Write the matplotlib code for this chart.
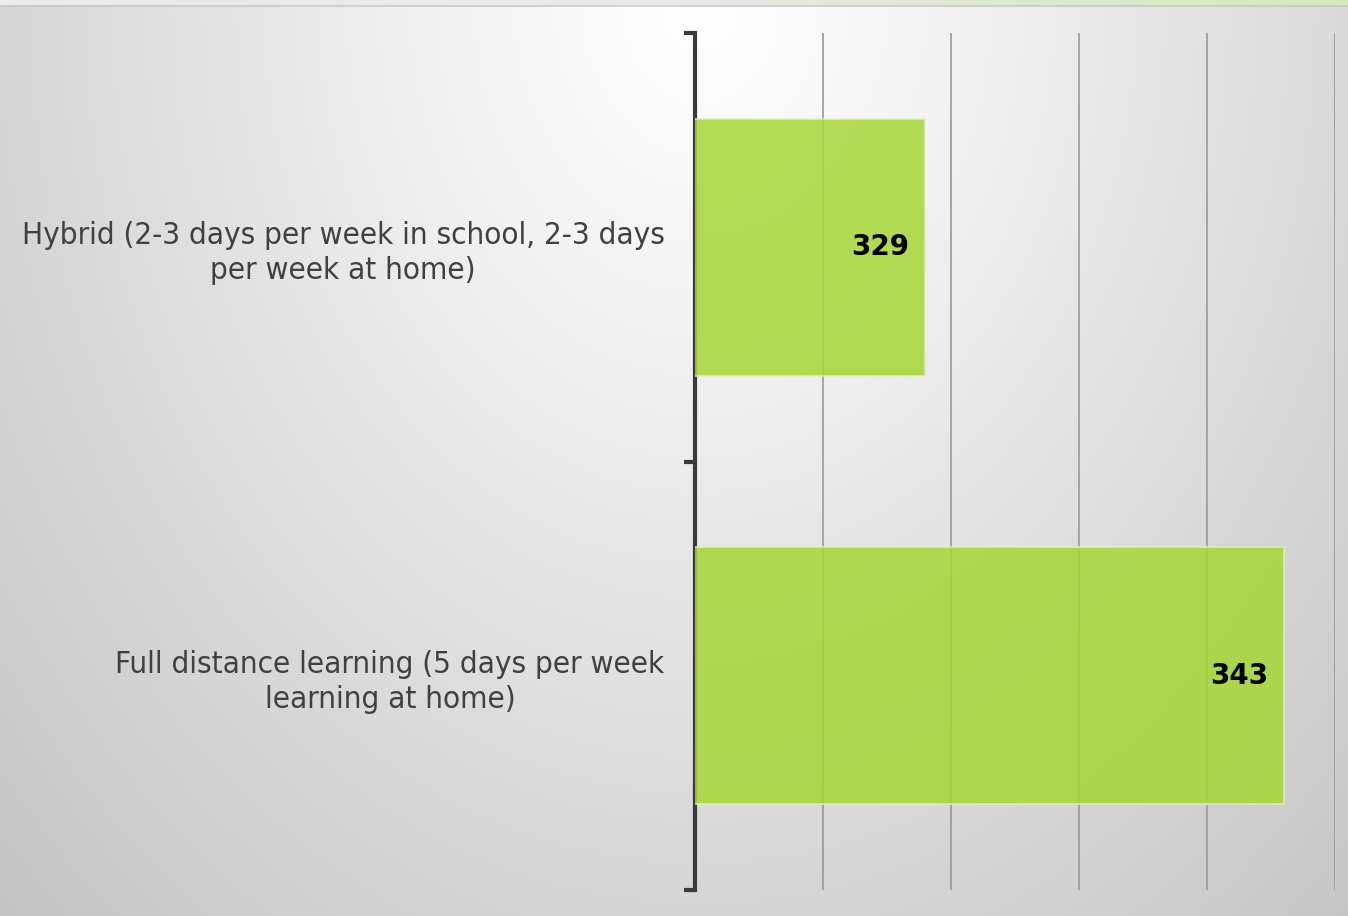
import numpy as np
import matplotlib.pyplot as plt
from matplotlib.colors import LinearSegmentedColormap

# data
categories = ['Hybrid (2-3 days per week in school, 2-3 days\nper week at home)',
              'Full distance learning (5 days per week\nlearning at home)']
values = [329, 343]

fig = plt.figure(figsize=(13.48, 9.16), dpi=100)

# background gradient (light at top centre, grey towards the edges)
bg = fig.add_axes([0, 0, 1, 1], zorder=-5)
W, H = 1348, 916
xx, yy = np.meshgrid(np.arange(W), np.arange(H))
r = np.sqrt(((xx - 700) / 700.0) ** 2 + (yy / 900.0) ** 2)
cmap_bg = LinearSegmentedColormap.from_list(
    'bg', [(0, '#ffffff'), (0.233, '#f3f3f3'), (0.487, '#e2e2e2'),
           (0.667, '#d6d6d6'), (0.94, '#c5c5c5'), (1.0, '#c0c0c0')])
bg.imshow(r, cmap=cmap_bg, vmin=0, vmax=1.5, aspect='auto', extent=[0, W, H, 0])
# thin strip on top
strip = np.linspace(0, 1, W).reshape(1, -1)
cmap_strip = LinearSegmentedColormap.from_list('st', ['#ececec', '#e8e8e8', '#d6e8bd'])
bg.imshow(strip, cmap=cmap_strip, aspect='auto', extent=[0, W, 5, 0])
bg.plot([0, W], [5.5, 5.5], color='#c8c8c8', lw=1.2)
bg.set_xlim(0, W)
bg.set_ylim(H, 0)
bg.axis('off')

ax = fig.add_axes([695 / W, 1 - 890 / H, 640 / W, 857 / H])
ax.patch.set_alpha(0)

ypos = np.arange(len(categories))[::-1]
bars = ax.barh(ypos, values, height=0.6, left=0, color='#a6d637', alpha=0.85,
               edgecolor='#e2f0c0', linewidth=1.2, zorder=3)

ax.set_xlim(320, 345)
ax.set_ylim(-0.5, 1.5)
ax.set_xticks([325, 330, 335, 340, 345])
ax.xaxis.grid(True, color='#999999', lw=1.2, zorder=1)
ax.tick_params(axis='x', length=0, labelbottom=False)

ax.set_yticks(ypos)
ax.set_yticklabels(categories, fontsize=22.5, color='#404040',
                   family='DejaVu Sans', stretch='condensed',
                   multialignment='center', linespacing=1.25)
ax.set_yticks([-0.5, 0.5, 1.5], minor=True)
ax.tick_params(axis='y', which='major', length=0, pad=22)
ax.tick_params(axis='y', which='minor', length=8, width=3, color='#3a3a3a')

for s in ['top', 'right', 'bottom']:
    ax.spines[s].set_visible(False)
ax.spines['left'].set_color('#3a3a3a')
ax.spines['left'].set_linewidth(3)

for b, v in zip(bars, values):
    ax.text(b.get_width() - 0.62, b.get_y() + b.get_height() / 2, str(v),
            ha='right', va='center', fontsize=20, fontweight='bold',
            color='black', zorder=4)

fig.savefig('out.png', dpi=100)
